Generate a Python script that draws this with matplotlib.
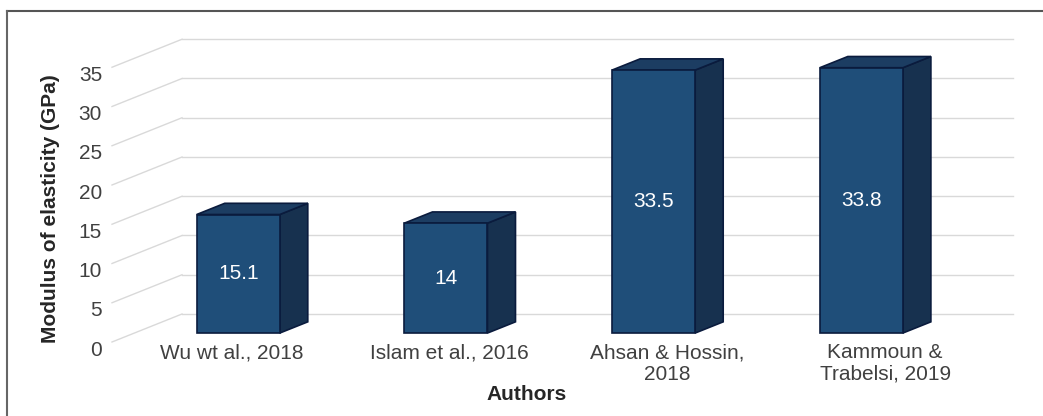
import matplotlib
matplotlib.use("Agg")
import matplotlib.pyplot as plt
from matplotlib.patches import Polygon
from matplotlib.lines import Line2D

# ---- data ----
categories = ["Wu wt al., 2018", "Islam et al., 2016", "Ahsan & Hossin,\n2018", "Kammoun &\nTrabelsi, 2019"]
values = [15.1, 14, 33.5, 33.8]
value_labels = ["15.1", "14", "33.5", "33.8"]
yticks = [0, 5, 10, 15, 20, 25, 30, 35]
ylabel = "Modulus of elasticity (GPa)"
xlabel = "Authors"

# ---- style / geometry ----
FRONT = "#1F4E79"
SIDE = "#17314F"
TOP = "#1C3D62"
EDGE = "#0A1B3D"
GRID = "#D9D9D9"
TXT = "#404040"
FS = 15

W, H = 1043, 416
fig = plt.figure(figsize=(W / 100, H / 100), dpi=100)
ax = fig.add_axes([112 / W, (H - 342) / H, 900.8 / W, 314 / H])
ax.set_xlim(-0.5, 3.837)
ax.set_ylim(0, 40)
ax.axis("off")

DX, DY = 0.337, 3.567      # oblique offset for full depth (front floor -> back wall)
Z0, Z1 = 0.32, 0.72        # bar depth range
BW = 0.4                   # bar width in category units
n = len(categories)


def P(x, y, z):
    return (x + DX * z, y + DY * z)


# back wall gridlines and left wall diagonals
for v in yticks:
    xa, ya = P(-0.5, v, 1)
    xb, yb = P(n - 0.5, v, 1)
    ax.add_line(Line2D([xa, xb], [ya, yb], color=GRID, lw=1.0, clip_on=False, zorder=1))
    xc, yc = P(-0.5, v, 0)
    ax.add_line(Line2D([xc, xa], [yc, ya], color=GRID, lw=1.0, clip_on=False, zorder=1))
    ax.text(-0.5 - 0.048, v - 1.05, str(v), ha="right", va="center", fontsize=FS,
            color=TXT, family="Liberation Sans")

# bars
for i, v in enumerate(values):
    l, r = i - BW / 2, i + BW / 2
    front = [P(l, 0, Z0), P(r, 0, Z0), P(r, v, Z0), P(l, v, Z0)]
    side = [P(r, 0, Z0), P(r, 0, Z1), P(r, v, Z1), P(r, v, Z0)]
    top = [P(l, v, Z0), P(r, v, Z0), P(r, v, Z1), P(l, v, Z1)]
    for pts, col in ((side, SIDE), (top, TOP), (front, FRONT)):
        ax.add_patch(Polygon(pts, closed=True, facecolor=col, edgecolor=EDGE,
                             lw=1.2, joinstyle="miter", clip_on=False, zorder=3))
    cx, cy = P(i, v / 2, Z0)
    ax.text(cx, cy, value_labels[i], ha="center", va="center", fontsize=FS,
            color="white", family="Liberation Sans", zorder=5)

# category labels
for i, lab in enumerate(categories):
    x = 0.078 + i * 1.048
    ax.text(x, -0.15, lab, ha="center", va="top", fontsize=FS,
            color=TXT, family="Liberation Sans", linespacing=1.17)

# axis titles
fig.text(51 / W, 1 - 209 / H, ylabel, rotation=90, ha="center", va="center",
         fontsize=FS, fontweight="bold", color="#262626", family="Liberation Sans")
fig.text(527 / W, 1 - 395 / H, xlabel, ha="center", va="center",
         fontsize=FS, fontweight="bold", color="#262626", family="Liberation Sans")

# frame (top and left only)
fig.add_artist(Line2D([6.5 / W, 1], [1 - 10.5 / H, 1 - 10.5 / H], color="#555555", lw=1.5,
                      transform=fig.transFigure))
fig.add_artist(Line2D([6.5 / W, 6.5 / W], [0, 1 - 10.5 / H], color="#666666", lw=1.5,
                      transform=fig.transFigure))

fig.savefig("out.png", dpi=100)
